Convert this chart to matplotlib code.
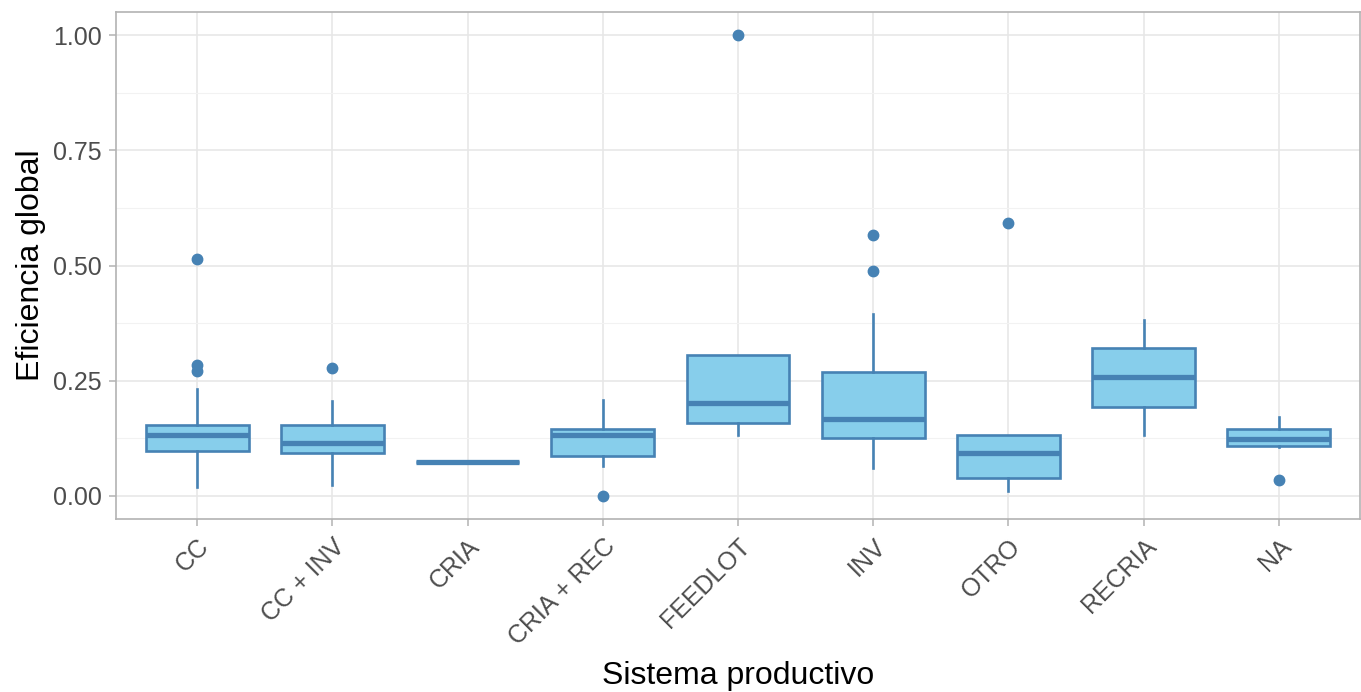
import matplotlib
matplotlib.use("Agg")
import matplotlib.pyplot as plt
from matplotlib.ticker import MultipleLocator

plt.rcParams["font.family"] = ["Liberation Sans", "DejaVu Sans"]

# values
categories = ["CC", "CC + INV", "CRIA", "CRIA + REC", "FEEDLOT", "INV", "OTRO", "RECRIA", "NA"]
whislo = [0.019, 0.024, 0.074, 0.065, 0.132, 0.060, 0.011, 0.132, 0.107]
q1 = [0.097, 0.094, 0.074, 0.087, 0.159, 0.125, 0.040, 0.193, 0.109]
med = [0.132, 0.114, 0.074, 0.132, 0.202, 0.166, 0.094, 0.258, 0.123]
q3 = [0.154, 0.154, 0.074, 0.146, 0.305, 0.268, 0.132, 0.321, 0.146]
whishi = [0.231, 0.206, 0.074, 0.209, 0.305, 0.395, 0.132, 0.382, 0.171]
outliers = [
    [0.515, 0.285, 0.271],
    [0.278],
    [],
    [0.0],
    [1.0],
    [0.566, 0.488],
    [0.592],
    [],
    [0.035],
]

stats = [
    dict(label=c, whislo=a, q1=b, med=m, q3=d, whishi=e, fliers=f)
    for c, a, b, m, d, e, f in zip(categories, whislo, q1, med, q3, whishi, outliers)
]

edge = "#4682B4"
fill = "#87CEEB"
grid_col = "#e6e6e6"
border = "#b3b3b3"

fig = plt.figure(figsize=(13.61, 6.92), dpi=100)
ax = fig.add_axes([116 / 1361, 1 - 519 / 692, (1360 - 116) / 1361, (519 - 12) / 692])

positions = list(range(1, len(categories) + 1))
ax.bxp(
    stats,
    positions=positions,
    widths=0.76,
    patch_artist=True,
    showcaps=False,
    boxprops={"facecolor": fill, "edgecolor": edge, "linewidth": 1.9},
    whiskerprops={"color": edge, "linewidth": 1.9},
    medianprops={"color": edge, "linewidth": 3.8, "solid_capstyle": "butt"},
    flierprops={"marker": "o", "markerfacecolor": edge, "markeredgecolor": edge,
                "markersize": 7.5},
    zorder=3,
)

ax.set_xlim(0.4, len(categories) + 0.6)
ax.set_ylim(-0.05, 1.05)
ax.yaxis.set_minor_locator(MultipleLocator(0.125))
ax.set_yticks([0, 0.25, 0.5, 0.75, 1.0])
ax.set_yticklabels(["0.00", "0.25", "0.50", "0.75", "1.00"])
ax.set_xticks(positions)
ax.set_xticklabels(categories, rotation=45, ha="right", va="top", rotation_mode="anchor")

ax.grid(True, which="major", color=grid_col, linewidth=1.1, zorder=0)
ax.grid(True, which="minor", axis="y", color="#f2f2f2", linewidth=0.8, zorder=0)
ax.set_axisbelow(True)
for s in ax.spines.values():
    s.set_color(border)
    s.set_linewidth(1.2)

ax.tick_params(axis="both", which="major", colors=border, labelcolor="#4d4d4d",
               labelsize=18, length=5, width=1.1)
ax.tick_params(axis="x", pad=6)
ax.tick_params(axis="y", pad=5)
ax.tick_params(axis="y", which="minor", length=0)

ax.set_xlabel("Sistema productivo", fontsize=23, color="black", labelpad=8)
ax.set_ylabel("Eficiencia global", fontsize=23, color="black", labelpad=5)

fig.savefig("out.png", dpi=100)
